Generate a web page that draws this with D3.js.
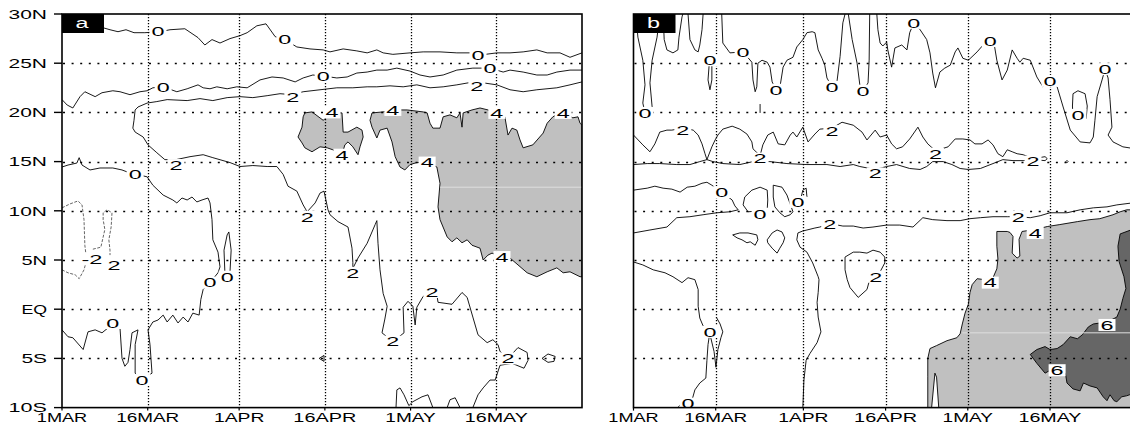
<!DOCTYPE html>
<html>
<head>
<meta charset="utf-8">
<title>Contours</title>
<script src="https://cdn.jsdelivr.net/npm/d3@7"></script>
<style>
  body { margin: 0; background: #fff; }
  svg { display: block; }
  text { font-family: "Liberation Sans", "DejaVu Sans", sans-serif; }
</style>
</head>
<body>
<script>

// axis ticks: days since 1 March, latitude in degrees
var dateTicks = [0, 15, 31, 46, 61, 76];
var dateLabels = ["1MAR", "16MAR", "1APR", "16APR", "1MAY", "16MAY"];
var latTicks = [30, 25, 20, 15, 10, 5, 0, -5, -10];
var latLabels = ["30N", "25N", "20N", "15N", "10N", "5N", "EQ", "5S", "10S"];
var gridLats = [25, 20, 15, 10, 5, 0, -5];
var gridDays = [15, 31, 46, 61, 76];

// ---- panel a : contour lines as [day, lat]
var aZeroNorth = [[0,28.7],[7.2,28.6],[8.4,28.4],[9.8,28.2],[11.2,28.4],[12.6,28.1],[14.5,28.1],[17.15,28.2],[18.9,28.4],[21.5,28.5],[23.8,27.6],[25.0,26.85],[26.25,27.4],[27.65,27.05],[29.4,27.5],[31.15,27.8],[32.4,28.1],[34.1,28.8],[35.7,29.0],[37.3,27.7],[39.0,27.4],[41.1,26.65],[43.4,26.45],[45.7,26.35],[46.9,26.15],[49.2,26.45],[51.6,26.25],[53.4,26.05],[55.1,26.35],[56.2,26.05],[57.9,25.9],[60.9,26.05],[63.2,26.15],[66.15,26.15],[69.1,26.05],[71.4,26.05],[72.8,25.8],[76.1,26.05],[78.4,26.05],[80.7,26.15],[83.1,26.35],[84.9,26.05],[87.15,26.05],[88.9,25.6],[91,26.05]];
var aZeroMid = [[0,21.3],[0.9,20.75],[1.9,20.45],[3.15,21.6],[4.0,22.1],[5.8,21.6],[7.0,22.0],[8.9,22.2],[10.15,22.1],[11.9,21.8],[13.65,22.1],[14.9,22.2],[15.9,22.5],[17.7,22.6],[20.1,22.1],[21.9,22.4],[23.8,22.8],[24.7,22.5],[25.9,22.4],[27.1,22.6],[28.9,22.4],[30.6,22.6],[32.4,22.5],[34.65,23.3],[36.75,23.6],[38.7,23.5],[40.8,23.1],[42.2,23.5],[43.9,23.8],[45.7,23.7],[48.1,23.5],[49.9,23.6],[51.6,24.0],[53.4,24.1],[55.1,24.3],[56.9,24.3],[58.6,24.5],[60.9,24.2],[62.65,23.8],[64.4,23.6],[66.7,23.8],[69.1,24.3],[71.9,24.5],[74.9,24.5],[77.2,24.1],[78.4,24.3],[80.7,24.1],[83.1,23.8],[84.9,23.8],[86.6,24.1],[88.9,24.3],[91,24.3]];
var aTwo = [[91,23.1],[88.9,22.8],[86.6,22.5],[83.1,22.3],[80.7,22.1],[78.4,22.3],[76.1,22.8],[72.6,23.1],[71.05,23.0],[69.1,22.8],[66.7,22.6],[64.4,22.5],[62.1,22.8],[59.7,22.6],[57.4,22.7],[55.1,22.6],[53.4,22.6],[50.9,22.5],[48.1,22.5],[45.15,22.3],[42.2,22.1],[40.4,21.8],[38.15,21.9],[35.9,21.7],[33.4,21.5],[31.15,21.6],[28.9,21.5],[26.4,21.2],[24.15,21.4],[21.9,21.2],[18.4,21.3],[16.6,21.1],[14.9,20.95],[13.3,20.55],[12.8,20.25],[12.6,19.2],[12.4,18.4],[12.8,18.0],[14.2,17.5],[15.05,16.7],[16.6,15.9],[18.0,15.2],[19.95,15.2],[22.4,15.5],[24.7,15.7],[26.4,15.4],[29.4,14.9],[31.15,14.5],[33.4,14.6],[35.9,14.5],[37.6,14.5],[38.7,13.7],[39.55,12.5],[41.1,12.0],[42.2,10.6],[42.9,9.9],[44.3,10.8],[45.15,11.8],[45.85,12.0],[46.55,10.1],[46.9,9.6],[48.3,8.9],[50.05,8.35],[50.75,6.2],[50.9,4.75],[50.9,4.15],[51.8,5.2],[53.4,6.7],[54.8,8.6],[55.1,9.0],[55.3,6.7],[55.65,4.0],[56.2,1.6],[56.9,0.3],[56.5,-1.0],[56.0,-2.4],[57.9,-3.3],[59.85,-2.4],[59.7,0.2],[60.55,0.8],[61.4,0.3],[61.8,-1.6],[62.1,0.2],[63.2,1.3],[64.75,1.8],[65.6,1.5],[65.8,0.7],[68.25,0.5],[70.0,1.7],[70.9,1.2],[71.9,-0.8],[72.8,-2.6],[74.4,-3.4],[75.4,-3.1],[76.3,-3.6],[76.65,-4.3],[78.05,-5.0],[79.8,-3.9],[81.4,-4.4],[81.55,-5.2],[80.85,-6.0],[78.75,-5.5],[76.65,-5.7],[75.8,-7.2],[74.9,-7.2],[73.7,-8.0],[72.8,-8.7],[71.9,-10]];
var aZeroSouth = [[0,14.45],[1.05,14.65],[2.6,14.85],[3.0,15.4],[3.5,14.65],[4.9,14.15],[6.65,14.35],[8.9,14.35],[10.5,14.15],[11.4,13.95],[12.8,13.75],[14.9,13.45],[15.9,12.6],[17.7,11.6],[19.4,11.1],[20.1,10.8],[21.0,11.3],[21.9,11.1],[22.75,11.4],[23.6,10.9],[24.5,11.1],[25.55,11.3],[25.9,10.8],[26.25,9.1],[26.4,7.05],[27.3,5.8],[27.65,4.3],[27.3,3.7],[25.9,2.7],[24.7,2.0],[24.3,1.0],[24.0,-0.6],[22.9,-0.4],[22.05,-1.3],[21.2,-0.8],[20.3,-1.4],[19.4,-0.6],[18.4,-1.3],[17.7,-0.6],[16.8,-1.1],[15.9,-1.3],[15.05,-2.1],[15.4,-3.6],[15.75,-6.5],[14.0,-7.2],[12.8,-6.5],[12.8,-3.6],[13.3,-2.1],[12.25,-2.4],[11.9,-4.1],[11.55,-5.4],[11.0,-5.8],[10.5,-5.0],[10.15,-1.9],[8.9,-1.4],[8.05,-1.9],[7.0,-2.4],[5.8,-2.1],[4.55,-2.3],[3.7,-4.1],[1.9,-2.9],[1.05,-2.8],[0,-2.1]];
var aZeroLoop = [[28.5,3.8],[28.35,6.0],[28.9,7.55],[29.2,7.85],[29.6,6.0],[29.4,3.8]];
var aTri = [[45.0,-5.0],[45.85,-4.7],[45.85,-5.3],[45.0,-5.0]];
var aDiamond = [[84.0,-5.0],[85.05,-4.55],[86.3,-4.8],[86.1,-5.3],[85.05,-5.4],[84.0,-5.0]];
var aBump1 = [[58.45,-10],[58.6,-8.2],[59.15,-8.0],[59.85,-8.7],[60.7,-9.8],[61.4,-9.4],[63.0,-8.9],[64.05,-8.7],[64.9,-10]];
var aBump2 = [[67.4,-10],[67.9,-9.2],[68.8,-9.0],[69.65,-10]];
// negative (dashed) contours
var aDash1 = [[0,10.3],[1.4,10.7],[2.8,11.0],[3.5,10.6],[3.85,9.1],[4.0,6.5],[4.2,5.5]];
var aDash2 = [[5.4,6.1],[6.8,6.3],[7.5,8.1],[7.2,9.1],[7.2,9.8],[7.9,10.1],[8.75,9.8],[8.6,8.35],[8.2,7.05],[8.4,6.0],[8.4,5.5]];
var aDash3 = [[0,4.0],[1.05,3.7],[2.3,3.5],[3.0,3.1],[3.85,4.0],[4.4,5.2]];
// shaded > 4
var aShade1 = [[42.5,19.95],[43.75,20.05],[45.7,19.2],[47.25,19.95],[49.0,19.95],[49.2,18.0],[50.05,18.0],[51.6,18.5],[52.5,18.2],[52.7,17.5],[52.15,16.5],[51.8,15.7],[50.9,16.5],[50.05,17.0],[49.5,16.7],[49.0,15.7],[47.4,16.2],[46.4,16.4],[45.15,16.5],[43.75,16.0],[42.5,16.4],[42.0,16.9],[41.3,17.5],[42.0,18.5],[42.2,19.55]];
var aShade2 = [[54.25,19.95],[56.2,20.05],[57.9,20.25],[60.4,20.25],[63.2,20.05],[63.9,19.95],[64.4,18.9],[64.9,18.4],[66.15,18.4],[66.7,19.55],[67.9,19.75],[69.1,19.45],[69.65,19.95],[70.0,18.5],[70.2,19.95],[71.75,20.25],[73.15,20.45],[74.55,20.25],[76.1,19.95],[77.5,19.55],[78.05,17.7],[78.75,18.4],[79.6,18.2],[80.15,17.2],[80.7,16.4],[82.4,16.7],[84.2,17.9],[84.9,18.9],[85.9,19.55],[87.15,19.95],[87.7,19.95],[89.4,19.45],[90.3,19.55],[90.65,18.9],[91,18.7],[91,3.3],[90.65,3.3],[88.9,3.8],[87.7,3.7],[86.6,4.2],[84.9,3.8],[83.1,3.3],[81.4,3.7],[78.4,5.2],[77.0,5.3],[75.25,5.7],[74.55,5.5],[73.7,5.0],[73.15,6.2],[71.75,6.5],[70.9,7.05],[70.0,6.75],[69.1,7.25],[68.25,6.85],[67.4,7.35],[66.15,9.1],[65.8,10.4],[66.15,12.8],[65.6,14.45],[63.9,14.9],[62.1,14.9],[60.9,14.7],[60.0,14.15],[59.15,14.45],[58.3,15.5],[57.75,17.0],[56.9,18.4],[55.65,18.2],[55.1,17.4],[54.25,18.5],[53.9,19.2]];
var aSeam = [[66.15,12.4],[91,12.4]];
var aLabels = [["0",16.8,28.3],["0",39.0,27.4],["0",72.8,25.8],["0",17.7,22.6],["0",45.7,23.7],["0",74.9,24.5],
  ["2",40.4,21.5],["2",72.6,22.7],["2",19.95,14.65],["2",42.9,9.4],["2",50.9,3.7],["2",57.9,-3.3],["2",64.75,1.75],["2",78.05,-5.0],
  ["0",12.8,13.75],["0",25.9,2.7],["0",14.0,-7.2],["0",8.9,-1.4],["0",28.9,3.3],["-2",5.25,5.1],["2",9.1,4.5],
  ["4",47.25,20.0],["4",49.0,15.7],["4",57.9,20.25],["4",63.9,14.9],["4",76.1,19.95],["4",87.7,19.95],["4",77.0,5.3]];

// ---- panel b
var bU1 = [[0.45,30],[0.8,27.65],[1.7,25.3],[2.1,22.8],[1.7,20.95],[2.1,19.95],[3.4,20.55],[3.0,23.0],[3.4,25.3],[4.3,27.65],[4.8,30]];
var bU2 = [[5.4,30],[5.6,27.4],[6.1,26.35],[7.2,26.05],[8.1,26.35],[8.3,27.65],[8.85,29.7],[9.0,30]];
var bU3 = [[9.95,30],[10.3,27.4],[11.2,26.35],[11.8,26.15],[12.1,26.85],[12.5,28.4],[12.7,30]];
var bLoopO = [[13.8,24.8],[13.6,23.3],[13.95,22.3],[14.3,23.3],[14.3,24.8]];
var bTick = [[23.1,20.85],[23.1,19.95]];
var bTop1 = [[16.1,30],[16.3,27.05],[17.6,26.05],[20.0,26.15],[21.6,25.1],[21.8,23.3],[22.2,22.1],[22.5,22.6],[22.7,25.0],[23.45,25.3],[24.4,25.1],[24.9,24.6],[25.3,23.1],[26.0,22.3],[26.7,22.5],[27.3,24.6],[28.0,25.3],[29.1,25.6],[29.8,26.65],[30.9,27.4],[31.65,28.1],[32.6,28.2],[33.1,28.1],[33.7,26.35],[34.4,25.5],[34.9,24.8],[35.3,23.5],[36.2,22.6],[37.1,23.0],[37.7,25.7],[38.2,29.1],[38.6,30]];
var bTop2 = [[39.2,30],[39.9,27.4],[40.8,25.0],[41.3,22.8],[41.9,22.2],[42.8,23.0],[43.0,25.3],[43.1,30]];
var bTop3 = [[44.4,30],[44.6,28.4],[45.0,27.05],[45.5,26.75],[46.2,27.15],[46.4,26.35],[47.1,24.6],[47.7,26.55],[48.95,26.85],[49.9,26.35],[50.4,28.1],[51.15,29.1],[52.3,28.4],[53.5,27.4],[54.1,26.05],[54.6,24.0],[55.1,22.5],[55.9,24.1],[56.8,24.5],[57.8,24.8],[58.7,26.15],[59.2,26.55],[60.1,25.5],[61.1,25.3],[62.7,26.15],[63.8,26.85],[65.1,27.25],[65.9,26.65],[66.3,25.3],[67.25,23.3],[68.2,24.3],[69.1,26.35],[70.0,25.5],[70.5,25.1],[71.1,25.5],[72.4,25.3],[73.6,23.6],[74.7,22.6],[76.0,23.2],[77.3,22.6],[78.4,20.55],[79.7,18.2],[81.5,17.0],[83.3,16.9],[83.9,17.5],[84.2,19.2],[84.6,21.6],[85.5,23.3],[86.05,24.4],[86.6,23.5],[86.95,21.3],[87.3,18.5],[86.6,17.7],[87.5,17.0],[89.3,16.5],[91,16.35]];
var bExcl = [[80.2,19.35],[80.1,20.65],[80.2,21.9],[81.1,22.2],[82.4,21.9],[82.8,20.65],[82.6,19.35]];
var bTongue2 = [[0,17.7],[1.7,16.7],[3.0,16.0],[3.9,16.8],[4.8,18.0],[6.1,18.2],[7.0,18.2],[9.0,18.4],[10.9,18.2],[11.8,17.7],[12.5,16.8],[13.05,15.8],[13.4,15.2],[14.3,16.5],[14.9,17.2],[15.4,17.7],[16.3,18.3],[18.0,18.6],[19.4,18.3],[20.7,17.8],[21.6,17.0],[21.8,16.3],[23.1,15.6],[23.6,16.7],[24.5,17.7],[25.5,18.0],[26.4,16.8],[27.6,16.7],[28.6,17.7],[29.1,18.0],[29.8,17.5],[30.9,18.5],[31.85,17.0],[33.1,17.8],[34.0,18.3],[36.2,18.4],[38.05,19.0],[40.1,18.7],[41.7,18.0],[42.6,17.2],[44.1,18.2],[45.0,17.5],[46.2,17.7],[47.1,16.8],[48.0,16.3],[49.1,16.5],[50.4,17.3],[51.9,18.5],[52.8,17.5],[53.7,16.8],[55.1,16.1],[57.4,16.5],[58.7,17.3],[60.1,17.3],[61.4,17.2],[62.3,16.8],[63.6,16.8],[64.7,17.2],[65.6,16.7],[66.5,15.8],[67.4,15.5],[68.2,16.2],[69.1,16.0],[70.0,15.8],[71.1,15.7],[72.9,15.3],[75.1,15.5],[75.5,15.3],
  [75.1,15.1],[72.9,15.2],[71.1,15.1],[69.25,15.1],[67.4,15.2],[65.6,14.8],[63.3,14.3],[61.1,14.2],[59.6,14.3],[58.1,14.7],[56.5,15.0],[54.6,15.0],[53.5,14.5],[52.3,14.2],[50.4,14.3],[48.0,14.7],[46.2,14.5],[44.1,14.2],[41.3,14.5],[40.1,14.7],[37.7,14.5],[35.3,14.7],[31.65,14.7],[28.0,14.8],[24.9,15.0],[21.8,15.0],[19.4,14.7],[16.3,14.8],[14.5,15.0],[13.4,15.2],[12.1,15.0],[10.3,14.7],[7.9,14.7],[4.8,14.8],[2.5,14.8],[0,14.7]];
var bDot = [[78.9,15.0],[79.1,15.12],[79.3,15.0],[79.1,14.88],[78.9,15.0]];
var bTongue0 = [[0,12.1],[2.5,12.3],[3.9,12.5],[5.4,12.3],[7.0,12.2],[8.5,11.9],[9.8,12.4],[11.2,12.5],[12.5,12.8],[13.4,12.9],[14.3,12.6],[16.1,11.9],[18.0,11.1],[18.5,10.5],[19.1,10.1],[17.6,9.9],[15.2,9.8],[12.7,9.6],[10.3,9.4],[7.9,9.3],[6.1,8.35],[3.0,8.05],[0,7.75]];
var bLoop1 = [[23.1,10.0],[20.9,9.9],[20.0,10.6],[20.3,11.4],[21.6,12.1],[23.1,12.4],[24.4,12.1],[24.5,11.1],[24.4,10.1]];
var bLoop2 = [[25.5,12.6],[27.1,12.4],[28.0,11.6],[29.1,9.9],[28.6,9.6],[27.6,9.4],[26.7,9.8],[25.8,10.4],[25.5,11.4],[25.5,12.6]];
var bVee = [[30.6,11.4],[30.9,12.1],[31.5,12.3],[31.65,11.4]];
var bLoop3 = [[18.1,7.55],[19.4,7.75],[20.9,7.75],[22.5,7.55],[22.7,7.05],[22.2,6.5],[21.3,6.85],[20.7,6.75],[19.8,7.05],[18.9,7.25],[18.1,7.55]];
var bLoop4 = [[24.4,7.05],[25.3,7.75],[26.2,8.05],[27.1,7.85],[27.6,7.25],[27.3,6.75],[26.7,6.2],[26.2,5.7],[25.3,6.2],[24.5,6.75],[24.4,7.05]];
var bTwoSouth = [[30.9,-10],[31.1,-7.2],[31.5,-5.2],[32.2,-4.5],[33.5,-3.4],[34.2,-2.3],[33.7,-0.8],[33.5,0.7],[33.7,1.7],[33.85,3.0],[33.7,3.3],[32.7,4.7],[31.65,5.8],[30.4,6.3],[29.8,7.05],[30.0,7.75],[30.9,7.95],[31.65,8.05],[33.1,8.25],[34.0,8.35],[35.8,8.7],[38.2,8.45],[40.1,8.45],[41.9,8.25],[43.7,8.35],[46.2,8.55],[48.6,8.55],[51.0,8.35],[52.8,9.3],[54.6,9.1],[57.2,9.0],[59.6,9.0],[61.4,9.2],[63.3,9.3],[65.6,9.4],[68.2,9.4],[70.2,9.4],[72.4,9.3],[74.2,9.5],[76.0,9.8],[79.1,9.8],[81.5,10.1],[83.9,10.3],[86.4,10.4],[88.2,10.6],[91,10.8]];
var bZeroSW = [[0,4.8],[1.7,4.5],[3.6,4.0],[5.75,3.7],[7.2,3.3],[8.85,2.7],[9.95,3.2],[11.2,3.0],[11.8,2.0],[11.8,0.3],[12.1,-0.9],[12.7,-1.7],[13.95,-2.3],[13.6,-3.6],[13.4,-5.2],[13.2,-7.0],[12.1,-7.5],[11.2,-8.2],[10.7,-9.2],[9.95,-9.6],[8.7,-9.6],[8.1,-10]];
var bSpike = [[14.1,-2.9],[14.7,-4.3],[15.05,-5.9],[15.4,-4.1],[15.95,-2.9],[16.3,-2.3],[15.8,-1.5],[15.2,-0.9]];
var bTwoLoop = [[38.6,5.3],[40.1,5.8],[41.3,5.8],[42.6,5.7],[43.7,6.0],[45.0,5.8],[45.85,5.3],[45.85,4.7],[45.0,3.8],[44.2,3.3],[43.1,3.0],[42.6,2.0],[41.0,1.2],[39.5,2.2],[39.0,3.0],[38.6,4.0],[38.6,5.3]];
var bShade4 = [[91,10.1],[90.0,10.1],[88.8,9.9],[87.5,9.6],[85.1,9.2],[83.3,9.1],[81.0,8.9],[77.8,8.6],[75.5,8.4],[73.3,8.1],[70.9,7.9],[70.35,7.1],[70.5,5.4],[70.0,5.2],[69.1,5.7],[69.25,7.4],[68.7,7.8],[68.2,7.9],[66.3,7.9],[66.3,6.4],[66.5,5.1],[66.3,4.1],[65.6,3.2],[64.1,3.0],[62.7,3.1],[61.8,2.5],[61.4,1.7],[61.1,0.5],[60.5,-0.4],[60.0,-1.5],[59.6,-2.5],[59.0,-2.9],[57.2,-3.2],[55.3,-3.7],[54.1,-4.0],[53.7,-5.0],[53.7,-6.8],[53.7,-10],[91,-10]];
var bHole = [[54.4,-10],[55.0,-6.5],[55.3,-6.9],[55.7,-10]];
var bShade6 = [[91,8.1],[88.8,7.65],[88.4,6.4],[88.6,4.85],[89.5,3.3],[89.85,2.1],[89.3,1.1],[88.8,0.0],[88.2,-0.8],[86.4,-1.3],[83.9,-1.5],[83.0,-1.8],[81.9,-2.6],[81.0,-3.0],[79.7,-2.8],[78.4,-3.6],[77.3,-4.0],[76.0,-4.1],[75.1,-3.8],[73.6,-4.1],[72.4,-4.6],[73.6,-5.5],[75.1,-6.5],[77.3,-5.8],[78.8,-6.5],[79.1,-7.5],[80.2,-8.1],[81.5,-8.3],[82.1,-7.5],[83.3,-7.8],[84.6,-8.0],[85.7,-8.9],[86.4,-9.3],[86.95,-8.7],[87.7,-9.3],[88.2,-9.4],[89.1,-8.9],[90.0,-8.8],[91,-8.6]];
var bSeam = [[60.0,-2.4],[91,-2.4]];
var bLabels = [["0",2.1,19.95],["0",13.95,25.3],["0",20.0,26.15],["0",26.0,22.3],["0",36.2,22.6],["0",41.9,22.2],["0",51.15,29.1],["0",65.1,27.25],["0",76.0,23.2],["0",86.05,24.4],["0",81.1,19.75],
  ["2",9.0,18.2],["2",23.1,15.3],["2",36.2,18.1],["2",55.1,15.8],["2",72.9,15.0],["2",44.1,13.8],
  ["0",16.1,11.9],["0",23.1,9.7],["0",30.0,10.9],["2",35.8,8.65],["2",70.2,9.4],["2",44.2,3.3],
  ["0",13.95,-2.3],["0",9.95,-9.6],["4",73.3,7.75],["4",65.1,2.7],["6",86.4,-1.6],["6",77.3,-6.2]];

var panels = [
  { tag: "a", left: 62, right: 582, yAxis: true,
    light: [aShade1, aShade2], dark: [], holes: [], seams: [aSeam],
    solid: [aZeroNorth, aZeroMid, aTwo, aZeroSouth, aZeroLoop, aTri, aDiamond, aBump1, aBump2],
    dashed: [aDash1, aDash2, aDash3], labels: aLabels },
  { tag: "b", left: 633.5, right: 1132.2, yAxis: false,
    light: [bShade4], dark: [bShade6], holes: [bHole], seams: [bSeam],
    solid: [bU1, bU2, bU3, bLoopO, bTick, bTop1, bTop2, bTop3, bExcl, bTongue2, bDot, bTongue0,
            bLoop1, bLoop2, bVee, bLoop3, bLoop4, bTwoSouth, bZeroSW, bSpike, bTwoLoop],
    dashed: [], labels: bLabels }
];

var plotTop = 14, plotBottom = 407.6;

var svg = d3.select('body').append('svg')
  .attr('width', 1130)
  .attr('height', 428);

function drawPanel(p, i) {
  var x = d3.scaleLinear().domain([0, 91]).range([p.left, p.right]);
  var y = d3.scaleLinear().domain([-10, 30]).range([plotBottom, plotTop]);
  var line = d3.line().x(function(d) { return x(d[0]); }).y(function(d) { return y(d[1]); });
  var area = d3.line().x(function(d) { return x(d[0]); }).y(function(d) { return y(d[1]); })
    .curve(d3.curveLinearClosed);

  svg.append('clipPath').attr('id', 'clip' + i)
    .append('rect').attr('x', p.left).attr('y', plotTop)
      .attr('width', p.right - p.left).attr('height', plotBottom - plotTop);

  var g = svg.append('g');
  var plot = g.append('g').attr('clip-path', 'url(#clip' + i + ')');

  // shading
  plot.selectAll('path.light').data(p.light).enter().append('path')
    .attr('d', area).attr('fill', '#c0c0c0').attr('stroke', '#000').attr('stroke-width', 0.9);
  plot.selectAll('path.dark').data(p.dark).enter().append('path')
    .attr('d', area).attr('fill', '#666').attr('stroke', '#000').attr('stroke-width', 0.9);
  plot.selectAll('path.hole').data(p.holes).enter().append('path')
    .attr('d', area).attr('fill', '#fff').attr('stroke', '#000').attr('stroke-width', 0.9);
  plot.selectAll('path.seam').data(p.seams).enter().append('path')
    .attr('d', line).attr('fill', 'none').attr('stroke', '#dedede').attr('stroke-width', 1);

  // dotted grid
  plot.selectAll('line.gh').data(gridLats).enter().append('line')
    .attr('x1', p.left + 1).attr('x2', p.right)
    .attr('y1', function(d) { return Math.round(y(d)) + 0.5; })
    .attr('y2', function(d) { return Math.round(y(d)) + 0.5; })
    .attr('stroke', '#000').attr('stroke-width', 1.4).attr('stroke-dasharray', '2,6.6');
  plot.selectAll('line.gv').data(gridDays).enter().append('line')
    .attr('x1', function(d) { return Math.round(x(d)) + 0.5; })
    .attr('x2', function(d) { return Math.round(x(d)) + 0.5; })
    .attr('y1', plotTop).attr('y2', plotBottom)
    .attr('stroke', '#000').attr('stroke-width', 1.3).attr('stroke-dasharray', '1.3,1.7');

  // contour lines
  plot.selectAll('path.c').data(p.solid).enter().append('path')
    .attr('d', line).attr('fill', 'none').attr('stroke', '#000').attr('stroke-width', 0.9);
  plot.selectAll('path.n').data(p.dashed).enter().append('path')
    .attr('d', line).attr('fill', 'none').attr('stroke', '#555').attr('stroke-width', 0.9)
    .attr('stroke-dasharray', '3,1.5');

  // contour labels on white boxes
  var lab = plot.selectAll('g.lab').data(p.labels).enter().append('g')
    .attr('transform', function(d) { return 'translate(' + x(d[1]) + ',' + y(d[2]) + ')'; });
  lab.append('rect')
    .attr('x', function(d) { return d[0].length > 1 ? -12 : -8.5; })
    .attr('y', -6)
    .attr('width', function(d) { return d[0].length > 1 ? 24 : 17; })
    .attr('height', 12).attr('fill', '#fff');
  lab.append('text')
    .attr('text-anchor', 'middle').attr('y', 4.8)
    .attr('font-size', 13.5)
    .attr('textLength', function(d) { return d[0].length > 1 ? 21 : 13; })
    .attr('lengthAdjust', 'spacingAndGlyphs')
    .text(function(d) { return d[0]; });

  // frame
  g.append('rect')
    .attr('x', p.left).attr('y', plotTop)
    .attr('width', p.right - p.left).attr('height', plotBottom - plotTop)
    .attr('fill', 'none').attr('stroke', '#000').attr('stroke-width', 1.6);

  // x axis ticks and labels
  g.selectAll('line.xt').data(dateTicks).enter().append('line')
    .attr('x1', function(d) { return x(d); }).attr('x2', function(d) { return x(d); })
    .attr('y1', plotBottom).attr('y2', plotBottom + 3)
    .attr('stroke', '#000').attr('stroke-width', 1.2);
  g.selectAll('text.xl').data(dateTicks).enter().append('text')
    .attr('x', function(d) { return x(d); }).attr('y', 421.5)
    .attr('text-anchor', 'middle').attr('font-size', 13.5)
    .attr('textLength', function(d, j) { return dateLabels[j].length * 12.6; })
    .attr('lengthAdjust', 'spacingAndGlyphs')
    .text(function(d, j) { return dateLabels[j]; });

  if (p.yAxis) {
    g.selectAll('line.yt').data(latTicks).enter().append('line')
      .attr('x1', p.left - 8).attr('x2', p.left)
      .attr('y1', function(d) { return y(d); }).attr('y2', function(d) { return y(d); })
      .attr('stroke', '#000').attr('stroke-width', 1.4);
    g.selectAll('text.yl').data(latTicks).enter().append('text')
      .attr('x', 47).attr('y', function(d) { return y(d) + 4.8; })
      .attr('text-anchor', 'end').attr('font-size', 13.5)
      .attr('textLength', function(d, j) { return latLabels[j].length * 12.8; })
      .attr('lengthAdjust', 'spacingAndGlyphs')
      .text(function(d, j) { return latLabels[j]; });
  }

  // panel tag
  g.append('rect').attr('x', p.left).attr('y', plotTop).attr('width', 42).attr('height', 19).attr('fill', '#000');
  g.append('text').attr('x', p.left + 20).attr('y', plotTop + 14)
    .attr('text-anchor', 'middle').attr('font-size', 14).attr('fill', '#fff')
    .attr('textLength', 13).attr('lengthAdjust', 'spacingAndGlyphs')
    .text(p.tag);
}

panels.forEach(drawPanel);

</script>
</body>
</html>
